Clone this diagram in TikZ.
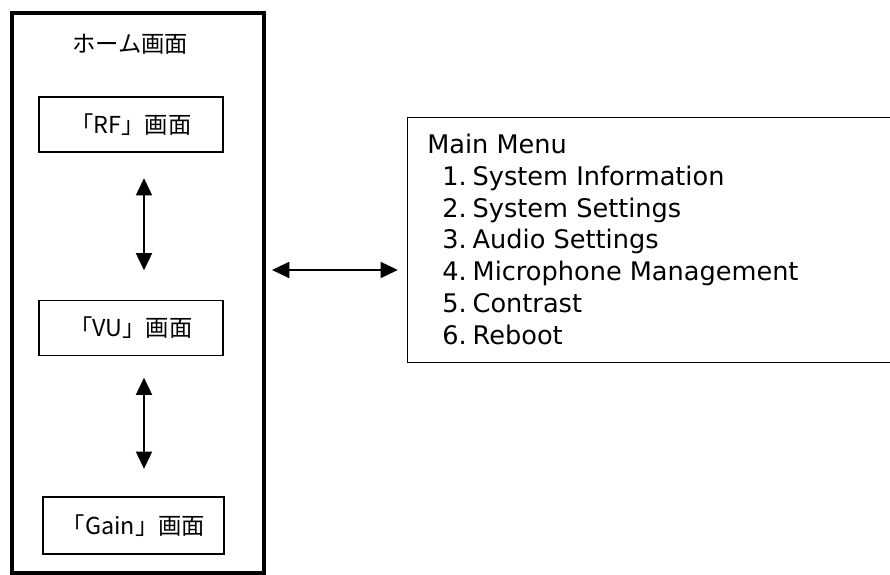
\documentclass[tikz,border=0pt]{standalone}
\usepackage{fontspec}
\setmainfont{DejaVu Sans}
\newfontfamily\jpfont{Noto Sans CJK JP}
\usetikzlibrary{arrows.meta}

\begin{document}
\begin{tikzpicture}[x=0.75pt,y=-0.75pt]
\tikzset{
  screen/.style={draw=black,line width=1.2pt,minimum width=138pt,minimum height=41.25pt,inner sep=0pt,font=\jpfont\fontsize{17.5}{21}\selectfont},
  link/.style={{Triangle[length=13pt,width=12pt]}-{Triangle[length=13pt,width=12pt]},line width=1.6pt},
}
\useasboundingbox (0,0) rectangle (890,575);
\clip (0,0) rectangle (890,575);
\node[draw=black,line width=3pt,minimum width=189pt,minimum height=420pt,inner sep=0pt] (home) at (138,293) {};
\node[font=\jpfont\fontsize{17.5}{21}\selectfont] (title) at (130,44) {ホーム画面};
\node[screen] (rf) at (131,124.5) {「RF」画面};
\node[screen] (vu) at (131,328) {「VU」画面};
\node[screen,minimum width=135.75pt,minimum height=42.75pt] (gain) at (133.5,525.5) {「Gain」画面};
\node[draw=black,line width=1.2pt,minimum width=450pt,minimum height=184pt,inner sep=0pt,anchor=north west] (menu) at (406.5,116.5) {};
\node[anchor=north west,inner sep=0pt,align=left,font=\fontsize{19.2}{23.8}\selectfont] (items) at (427,134) {Main Menu\\
\hspace*{11.25pt}1.\hspace{4.5pt}System Information\\
\hspace*{11.25pt}2.\hspace{4.5pt}System Settings\\
\hspace*{11.25pt}3.\hspace{4.5pt}Audio Settings\\
\hspace*{11.25pt}4.\hspace{4.5pt}Microphone Management\\
\hspace*{11.25pt}5.\hspace{4.5pt}Contrast\\
\hspace*{11.25pt}6.\hspace{4.5pt}Reboot};
\coordinate (axis) at ([xshift=9.75pt]rf.south);
\coordinate (lvl) at (0,270);
\draw[link,shorten <=19pt,shorten >=22pt] (axis |- rf.south) -- (axis |- vu.north);
\draw[link,shorten <=16pt,shorten >=20.5pt] (axis |- vu.south) -- (axis |- gain.north);
\draw[link,shorten <=4.5pt,shorten >=6.5pt] (home.east |- lvl) -- (menu.west |- lvl);
\end{tikzpicture}
\end{document}
